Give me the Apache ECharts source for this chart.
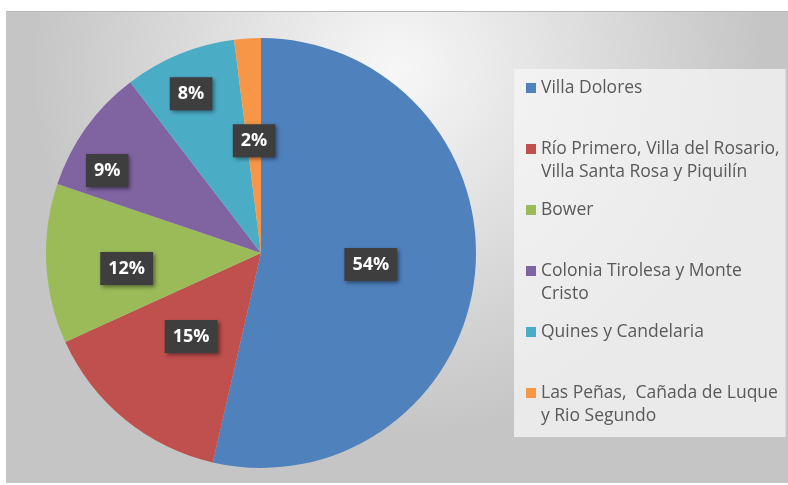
<!DOCTYPE html>
<html>
<head>
<meta charset="utf-8">
<script src="https://cdn.jsdelivr.net/npm/echarts@6/dist/echarts.min.js"></script>
<style>
  html, body { margin: 0; background: #fff; }
  #chart { position: absolute; left: 6px; top: 11px; width: 782px; height: 471px; border-top: 1px solid #b9b9b9; }
</style>
</head>
<body>
<div id="chart"></div>
<script>
const categories = [
  'Villa Dolores',
  'Río Primero, Villa del Rosario,\nVilla Santa Rosa y Piquilín',
  'Bower',
  'Colonia Tirolesa y Monte\nCristo',
  'Quines y Candelaria',
  'Las Peñas,  Cañada de Luque\ny Rio Segundo'
]
const shares = [53.6, 14.6, 12.0, 9.4, 8.4, 2.0]
const colors = ['#4f81bd', '#c0504d', '#9bbb59', '#8064a2', '#4bacc6', '#f79646']
// Excel "best fit" puts some labels further out than the midpoint
const labelNudge = [[0, -1], [0, -2], [-24, 10], [-64, -18], [-28, -57], [0, -2]]

const chart = echarts.init(document.getElementById('chart'))

const rich = {
  g: { width: 5 },
  ind: { width: 15 },
  t: { fontFamily: 'Open Sans', fontSize: 17.5, lineHeight: 23, color: '#595959' }
}
colors.forEach((c, i) => { rich['s' + i] = { width: 10, height: 10, backgroundColor: c } })

chart.setOption({
  animation: false,
  backgroundColor: {
    type: 'radial', x: 0.5, y: 0.12, r: 0.78,
    colorStops: [{ offset: 0, color: '#f7f7f7' }, { offset: 1, color: '#c5c5c5' }]
  },
  legend: {
    orient: 'vertical',
    left: 508,
    top: 57,
    padding: [10, 6, 12, 7],
    backgroundColor: 'rgba(245,245,245,0.75)',
    itemWidth: 0,
    itemHeight: 0,
    itemGap: 20,
    selectedMode: false,
    icon: 'rect',
    formatter: name => {
      const i = categories.indexOf(name)
      const lines = name.split('\n')
      const first = `{s${i}|}{g|}{t|${lines[0]}}`
      const second = lines[1] ? `{ind|}{t|${lines[1]}}` : '{t| }'
      return first + '\n' + second
    },
    textStyle: { rich }
  },
  series: [{
    type: 'pie',
    center: [255, 241],
    radius: 215,
    startAngle: 90,
    clockwise: true,
    silent: true,
    data: categories.map((name, i) => ({
      name,
      value: shares[i],
      itemStyle: { color: colors[i] },
      label: { offset: labelNudge[i] }
    })),
    label: {
      position: 'inside',
      formatter: p => Math.round(p.percent) + '%',
      fontFamily: 'Open Sans',
      fontWeight: 'bold',
      fontSize: 18,
      color: '#fff',
      backgroundColor: '#3e3e3e',
      padding: [8, 8, 7, 8],
      shadowColor: 'rgba(0,0,0,0.45)',
      shadowBlur: 4,
      shadowOffsetX: 2,
      shadowOffsetY: 2
    },
    labelLine: { show: false },
    emphasis: { disabled: true }
  }]
})
</script>
</body>
</html>
